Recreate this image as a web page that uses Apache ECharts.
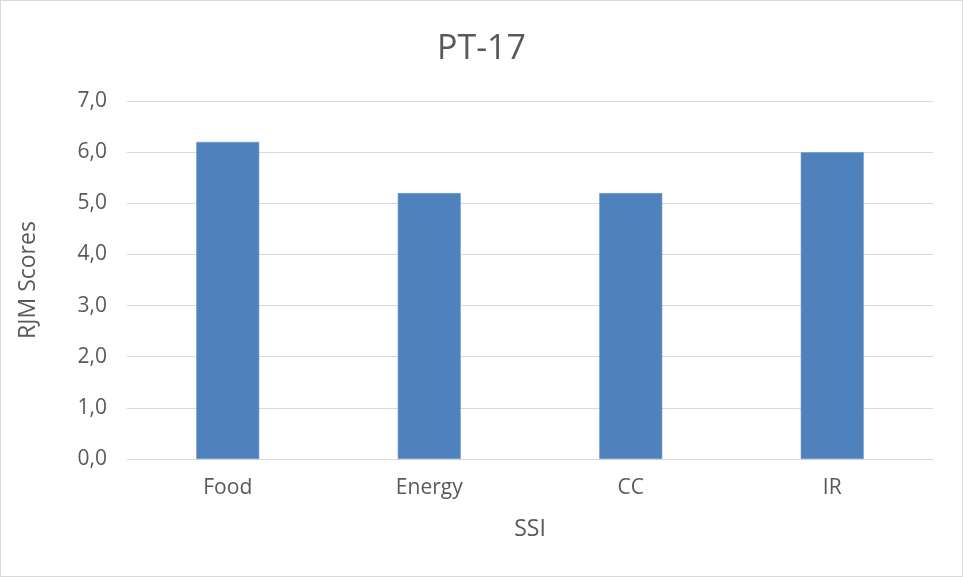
<!DOCTYPE html>
<html>
<head>
<meta charset="utf-8">
<script src="https://cdn.jsdelivr.net/npm/echarts@6/dist/echarts.min.js"></script>
<style>
  html, body { margin: 0; padding: 0; background: #fff; }
  #chart { width: 963px; height: 577px; box-sizing: border-box; border: 1px solid #d9d9d9; }
</style>
</head>
<body>
<div id="chart"></div>
<script>
const categories = ['Food', 'Energy', 'CC', 'IR'];
const scores = [6.2, 5.2, 5.2, 6.0];
const yTicks = { min: 0, max: 7, interval: 1 };

const font = '"Open Sans", "Noto Sans", sans-serif';
const chart = echarts.init(document.getElementById('chart'), null, { renderer: 'canvas' });
chart.setOption({
  animation: false,
  title: {
    text: 'PT-17',
    left: 'center',
    top: 26,
    textStyle: { fontFamily: font, fontSize: 34, fontWeight: 'normal', color: '#595959' }
  },
  grid: { left: 126, right: 29, top: 100, bottom: 117 },
  xAxis: {
    type: 'category',
    data: categories,
    name: 'SSI',
    nameLocation: 'middle',
    nameGap: 59,
    nameTextStyle: { fontFamily: font, fontSize: 23, color: '#595959' },
    axisLine: { lineStyle: { color: '#d9d9d9', width: 1 } },
    axisTick: { show: false },
    axisLabel: { fontFamily: font, fontSize: 21, color: '#595959', margin: 19 }
  },
  yAxis: {
    type: 'value',
    min: yTicks.min,
    max: yTicks.max,
    interval: yTicks.interval,
    name: 'RJM Scores',
    nameLocation: 'middle',
    nameGap: 87,
    nameRotate: 90,
    nameTextStyle: { fontFamily: font, fontSize: 23, color: '#595959' },
    axisLine: { show: false },
    axisTick: { show: false },
    splitLine: { lineStyle: { color: '#d9d9d9', width: 1 } },
    axisLabel: {
      fontFamily: font, fontSize: 21, color: '#595959', margin: 20,
      formatter: v => v.toFixed(1).replace('.', ',')
    }
  },
  series: [{
    type: 'bar',
    data: scores,
    barWidth: 63,
    itemStyle: { color: '#4f81bd', borderColor: '#6f97c9', borderWidth: 0.6 }
  }]
});
</script>
</body>
</html>
